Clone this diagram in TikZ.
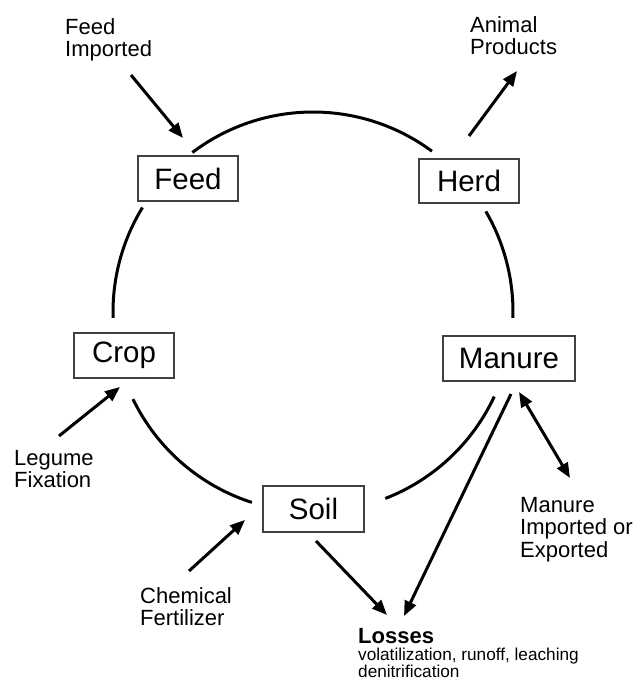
\documentclass[tikz,border=0pt]{standalone}
\usepackage{fontspec}
\setmainfont{Liberation Sans}
\usetikzlibrary{arrows.meta,calc}
\begin{document}
\begin{tikzpicture}[x=1pt,y=1pt,
  box/.style={draw=black!75,line width=1.3pt,minimum height=45pt,inner sep=0pt,font=\fontsize{29.5}{31}\selectfont},
  lbl/.style={anchor=north west,inner sep=0pt,align=left,font=\fontsize{22}{22.5}\selectfont},
  ring/.style={line width=3pt,black},
  arr/.style={line width=3pt,black,-{Triangle[length=15pt,width=12pt]}},
  darr/.style={line width=3pt,black,{Triangle[length=15pt,width=12pt]}-{Triangle[length=15pt,width=12pt]}}]
\useasboundingbox (0,0) rectangle (634,-681);
\coordinate (c) at (313,-312);
% boxes
\node[box,minimum width=100pt] (feed) at (188,-178.5) {Feed};
\node[box,minimum width=100pt,minimum height=44pt] (herd) at (469,-181) {Herd};
\node[box,minimum width=100pt] (crop) at (124,-355.5) {Crop};
\node[box,minimum width=132pt] (manure) at (509,-358.5) {Manure};
\node[box,minimum width=101pt,minimum height=46pt] (soil) at (313.5,-509) {Soil};
% labels
\node[lbl] (fi) at (65,-18) {Feed\\Imported};
\node[lbl] (ap) at (470,-16) {Animal\\Products};
\node[lbl] (lf) at (14,-450) {Legume\\Fixation};
\node[lbl] (cf) at (140,-587) {Chemical\\Fertilizer};
\node[lbl] (mie) at (520,-497) {Manure\\Imported or\\Exported};
\node[lbl,font=\fontsize{17.2}{17}\selectfont] (loss) at (358,-628) {{\bfseries\fontsize{22}{22}\selectfont Losses}\\volatilization, runoff, leaching\\denitrification};
% ring arcs
\draw[ring] ($(c)+(127.1:200pt)$) arc[start angle=127.1,end angle=53.5,radius=200pt];
\draw[ring] ($(c)+(148.5:200pt)$) arc[start angle=148.5,end angle=181.7,radius=200pt];
\draw[ring] ($(c)+(205.8:200pt)$) arc[start angle=205.8,end angle=252.2,radius=200pt];
\draw[ring] ($(c)+(291.2:200pt)$) arc[start angle=291.2,end angle=335,radius=200pt];
\draw[ring] ($(c)+(-1.7:200pt)$) arc[start angle=-1.7,end angle=30.2,radius=200pt];
% arrow end points
\coordinate (fis) at (131,-75);   \coordinate (fie) at (183,-138);
\coordinate (aps) at (469,-136);  \coordinate (ape) at (517,-71);
\coordinate (lfs) at (59,-436);   \coordinate (lfe) at (120,-387);
\coordinate (cfs) at (189,-571);  \coordinate (cfe) at (245,-520);
\coordinate (sls) at (316,-541);  \coordinate (sle) at (387,-615);
\coordinate (mls) at (511,-394);  \coordinate (mle) at (404,-616);
\coordinate (mis) at (519,-392);  \coordinate (mie2) at (570,-478);
\draw[arr] (fis) -- (fie);
\draw[arr] (aps) -- (ape);
\draw[arr] (lfs) -- (lfe);
\draw[arr] (cfs) -- (cfe);
\draw[arr] (sls) -- (sle);
\draw[arr] (mls) -- (mle);
\draw[darr] (mis) -- (mie2);
\end{tikzpicture}
\end{document}
